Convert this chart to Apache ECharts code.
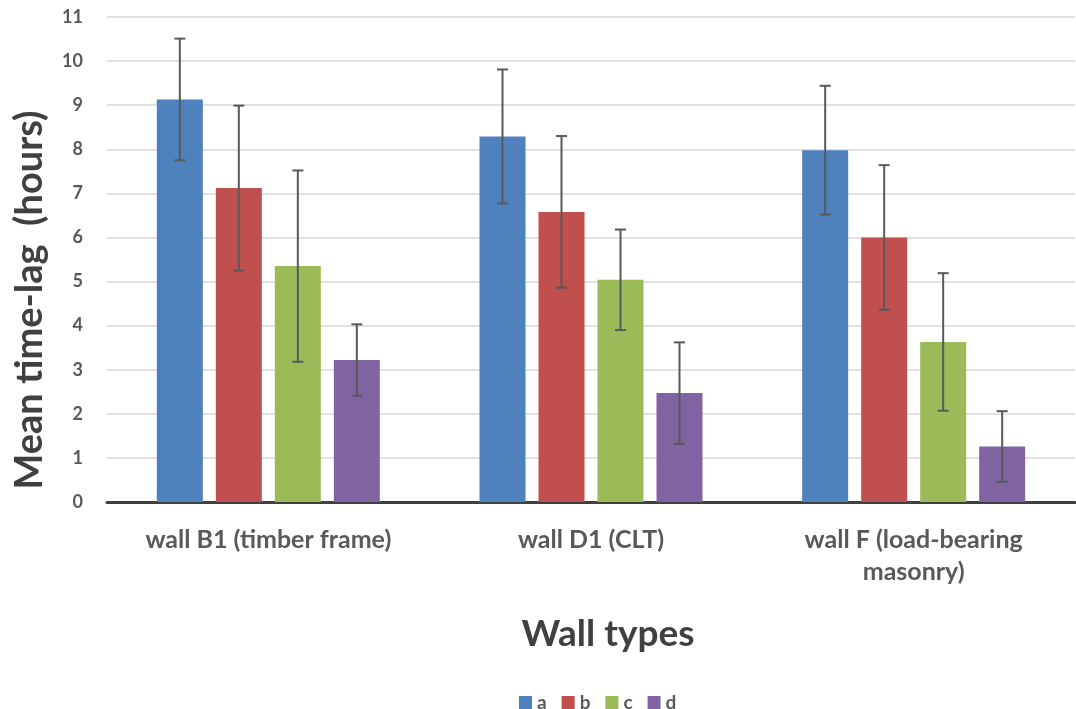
<!DOCTYPE html>
<html>
<head>
<meta charset="utf-8">
<script src="https://cdn.jsdelivr.net/npm/echarts@6/dist/echarts.min.js"></script>
<style>
html,body{margin:0;padding:0;background:#fff;}
#chart{width:1076px;height:709px;}
</style>
</head>
<body>
<div id="chart"></div>
<script>
const categories = ['wall B1 (timber frame)', 'wall D1 (CLT)', 'wall F (load-bearing\nmasonry)'];
const seriesNames = ['a', 'b', 'c', 'd'];
const meanA = [9.13, 8.29, 7.98];
const meanB = [7.12, 6.58, 6.00];
const meanC = [5.35, 5.04, 3.63];
const meanD = [3.22, 2.47, 1.26];
const errA = [1.38, 1.52, 1.46];
const errB = [1.87, 1.72, 1.64];
const errC = [2.17, 1.14, 1.56];
const errD = [0.81, 1.15, 0.80];
const yTicks = [0, 1, 2, 3, 4, 5, 6, 7, 8, 9, 10, 11];
const yTitle = 'Mean time-lag  (hours)';
const xTitle = 'Wall types';

const colors = ['#4F81BD', '#C0504D', '#9BBB59', '#8064A2'];
const means = [meanA, meanB, meanC, meanD];
const errs = [errA, errB, errC, errD];
const BAR_W = 46, BAR_GAP = 13;
const FONT = 'Lato';

const chart = echarts.init(document.getElementById('chart'));

const series = [];
means.forEach((m, i) => {
  series.push({
    name: seriesNames[i],
    type: 'bar',
    data: m,
    barWidth: BAR_W,
    barGap: (BAR_GAP / BAR_W * 100).toFixed(2) + '%',
    itemStyle: { color: colors[i] },
    emphasis: { disabled: true },
    z: 2
  });
});
means.forEach((m, i) => {
  const offset = (i - 1.5) * (BAR_W + BAR_GAP);
  series.push({
    type: 'custom',
    name: seriesNames[i] + '_err',
    data: m.map((v, k) => [k, v - errs[i][k], v + errs[i][k]]),
    encode: { x: 0, y: [1, 2] },
    z: 5,
    silent: true,
    renderItem: function (params, api) {
      const c = api.value(0);
      const lo = api.coord([c, api.value(1)]);
      const hi = api.coord([c, api.value(2)]);
      const x = lo[0] + offset;
      const cap = 5.5;
      const st = { stroke: '#595959', lineWidth: 2 };
      return {
        type: 'group',
        children: [
          { type: 'line', shape: { x1: x, y1: lo[1], x2: x, y2: hi[1] }, style: st },
          { type: 'line', shape: { x1: x - cap, y1: lo[1], x2: x + cap, y2: lo[1] }, style: st },
          { type: 'line', shape: { x1: x - cap, y1: hi[1], x2: x + cap, y2: hi[1] }, style: st }
        ]
      };
    }
  });
});

chart.setOption({
  animation: false,
  backgroundColor: '#fff',
  textStyle: { fontFamily: FONT },
  grid: { left: 107, right: 1, top: 17, bottom: 207, containLabel: false },
  legend: {
    data: seriesNames.map((n, i) => ({ name: n, itemStyle: { color: colors[i] } })),
    top: 688,
    left: 514,
    icon: 'rect',
    itemWidth: 13,
    itemHeight: 13,
    itemGap: 15,
    textStyle: { fontFamily: FONT, fontWeight: 'bold', fontSize: 19, color: '#595959' }
  },
  xAxis: {
    type: 'category',
    data: categories,
    axisLine: { lineStyle: { color: '#404040', width: 3 } },
    axisTick: { show: false },
    axisLabel: {
      fontFamily: FONT, fontWeight: 'bold', fontSize: 25, color: '#595959',
      margin: 22, lineHeight: 32, interval: 0
    }
  },
  yAxis: {
    type: 'value',
    min: yTicks[0],
    max: yTicks[yTicks.length - 1],
    interval: 1,
    axisLine: { show: false },
    axisTick: { show: false },
    splitLine: { lineStyle: { color: '#D9D9D9', width: 1.5 } },
    axisLabel: { fontFamily: FONT, fontWeight: 'bold', fontSize: 18, color: '#595959', margin: 24 }
  },
  graphic: [
    {
      type: 'text',
      x: 30, y: 300,
      rotation: Math.PI / 2,
      style: {
        text: yTitle,
        fontFamily: FONT, fontWeight: 'bold', fontSize: 38, fill: '#404040',
        align: 'center', verticalAlign: 'middle'
      }
    },
    {
      type: 'text',
      x: 608, y: 634,
      style: {
        text: xTitle,
        fontFamily: FONT, fontWeight: 'bold', fontSize: 37, fill: '#404040',
        align: 'center', verticalAlign: 'middle'
      }
    }
  ],
  series: series
});
</script>
</body>
</html>
